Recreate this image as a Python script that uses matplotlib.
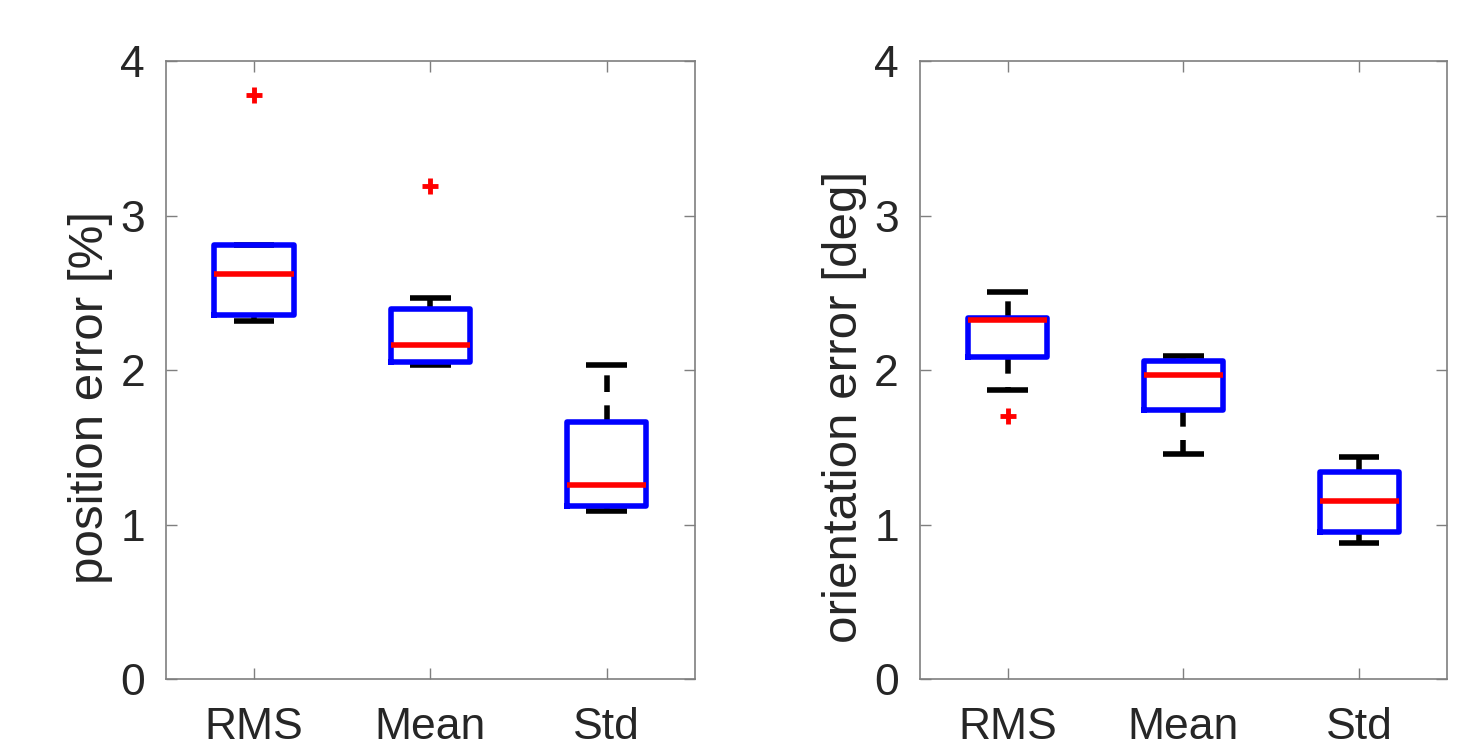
import matplotlib
matplotlib.use("Agg")
import matplotlib.pyplot as plt

categories = ["RMS", "Mean", "Std"]

# position error [%]
pos_whislo = [2.32, 2.03, 1.09]
pos_q1 = [2.355, 2.05, 1.12]
pos_med = [2.62, 2.163, 1.258]
pos_q3 = [2.81, 2.395, 1.665]
pos_whishi = [2.81, 2.465, 2.03]
pos_fliers = [[3.78], [3.19], []]

# orientation error [deg]
ori_whislo = [1.869, 1.458, 0.882]
ori_q1 = [2.084, 1.742, 0.955]
ori_med = [2.323, 1.97, 1.153]
ori_q3 = [2.337, 2.058, 1.337]
ori_whishi = [2.503, 2.09, 1.437]
ori_fliers = [[1.70], [], []]

yticks = [0, 1, 2, 3, 4]
ylabels = ["position error [%]", "orientation error [deg]"]

plt.rcParams["font.family"] = ["Liberation Sans", "DejaVu Sans"]

fig = plt.figure(figsize=(14.75, 7.46), dpi=100)
bottom, top = 0.0898, 0.918
ax1 = fig.add_axes([0.1125, bottom, 0.471 - 0.1125, top - bottom])
ax2 = fig.add_axes([0.6235, bottom, 0.981 - 0.6235, top - bottom])


def make_stats(wl, q1, med, q3, wh, fl):
    return [dict(whislo=wl[i], q1=q1[i], med=med[i], q3=q3[i], whishi=wh[i],
                 fliers=fl[i], label=categories[i]) for i in range(len(categories))]


txt = "#262626"
axc = "#7f7f7f"
for ax, st, yl, ly in [
    (ax1, make_stats(pos_whislo, pos_q1, pos_med, pos_q3, pos_whishi, pos_fliers), ylabels[0], 0.455),
    (ax2, make_stats(ori_whislo, ori_q1, ori_med, ori_q3, ori_whishi, ori_fliers), ylabels[1], 0.44),
]:
    ax.bxp(st, positions=[1, 2, 3], widths=0.45, capwidths=0.23,
           boxprops=dict(color="blue", linewidth=4, zorder=4),
           medianprops=dict(color="red", linewidth=4, solid_capstyle="butt", zorder=4.5),
           whiskerprops=dict(color="black", linewidth=4, linestyle=(0, (3, 2.4)), zorder=3),
           capprops=dict(color="black", linewidth=4, solid_capstyle="butt", zorder=3),
           flierprops=dict(marker="+", markeredgecolor="red", markersize=12,
                           markeredgewidth=3.5, linestyle="none", zorder=5))
    ax.set_xlim(0.5, 3.5)
    ax.set_ylim(0, 4)
    ax.set_yticks(yticks)
    ax.set_yticklabels([str(v) for v in yticks])
    ax.set_xticks([1, 2, 3])
    ax.set_xticklabels(categories)
    ax.tick_params(direction="in", length=8, width=1, color=axc, labelcolor=txt,
                   labelsize=32, top=True, right=True)
    ax.tick_params(axis="x", pad=20)
    ax.tick_params(axis="y", pad=15)
    for s in ax.spines.values():
        s.set_color(axc)
        s.set_linewidth(1.2)
    ax.set_ylabel(yl, fontsize=35.5, color=txt, labelpad=5)
    ax.yaxis.label.set_y(ly)

fig.savefig("out.png", dpi=100)
